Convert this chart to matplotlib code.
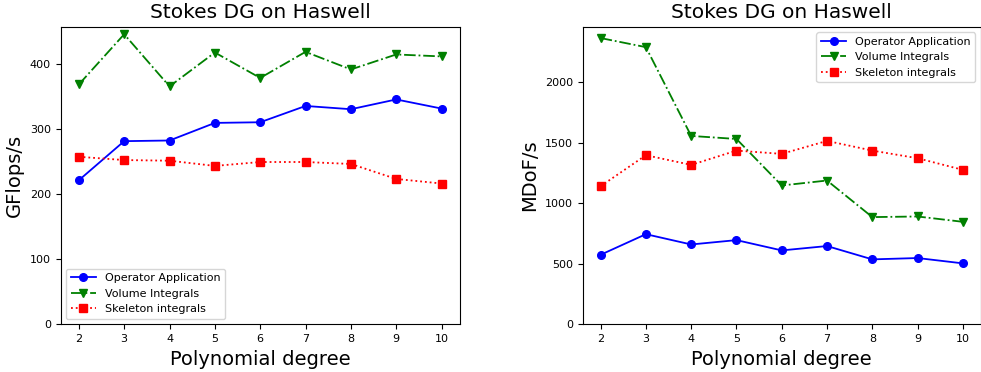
import matplotlib
matplotlib.use('Agg')
import matplotlib.pyplot as plt

degrees = [2, 3, 4, 5, 6, 7, 8, 9, 10]

# GFlops/s
gflops_operator = [221, 281, 282, 309, 310, 335, 330, 345, 331]
gflops_volume = [368, 445, 365, 417, 378, 418, 391, 414, 411]
gflops_skeleton = [257, 252, 251, 243, 249, 249, 246, 223, 216]

# MDoF/s
mdofs_operator = [574, 744, 659, 695, 610, 646, 536, 547, 503]
mdofs_volume = [2363, 2288, 1555, 1530, 1146, 1187, 885, 890, 846]
mdofs_skeleton = [1140, 1396, 1316, 1434, 1407, 1514, 1434, 1371, 1275]

labels = ['Operator Application', 'Volume Integrals', 'Skeleton integrals']
title = 'Stokes DG on Haswell'

fig = plt.figure(figsize=(9.81, 3.72), dpi=100)
ax1 = fig.add_axes([60.7 / 981, 1 - 324.3 / 372, 399 / 981, 297.5 / 372])
ax2 = fig.add_axes([582.5 / 981, 1 - 324.3 / 372, 398.5 / 981, 297.5 / 372])


def draw(ax, ops, vol, skel, ylabel, legend_loc):
    ax.plot(degrees, ops, 'b-o', lw=1.3, ms=5.5, label=labels[0])
    ax.plot(degrees, vol, 'g-.v', lw=1.3, ms=5.5, label=labels[1])
    ax.plot(degrees, skel, 'r:s', lw=1.3, ms=5.5, label=labels[2])
    ax.set_ylim(bottom=0)
    ax.set_xticks(degrees)
    ax.tick_params(labelsize=8)
    ax.set_title(title, fontsize=14.5)
    ax.set_xlabel('Polynomial degree', fontsize=14)
    ax.set_ylabel(ylabel, fontsize=14)
    ax.legend(loc=legend_loc, fontsize=8, handlelength=2.3)


draw(ax1, gflops_operator, gflops_volume, gflops_skeleton, 'GFlops/s', 'lower left')
draw(ax2, mdofs_operator, mdofs_volume, mdofs_skeleton, 'MDoF/s', 'upper right')

fig.savefig('out.png', dpi=100)
